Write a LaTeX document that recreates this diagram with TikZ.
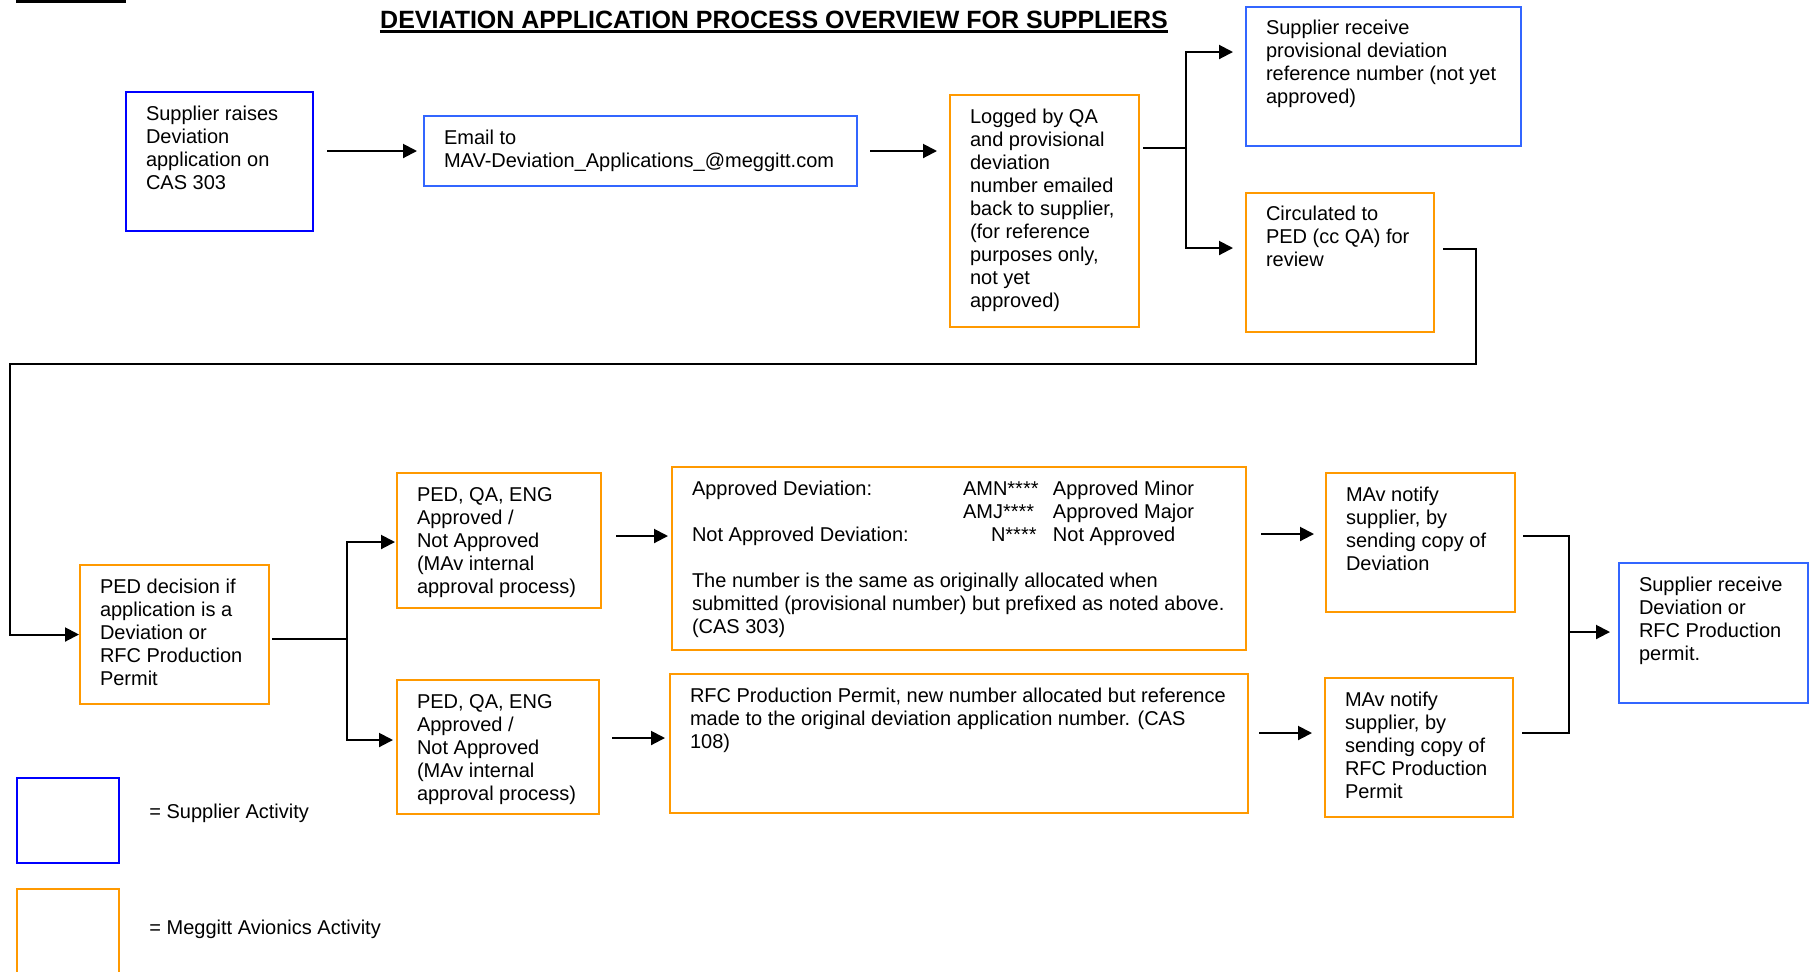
\documentclass[tikz,border=0pt]{standalone}
\usepackage{fontspec}
\setmainfont{Liberation Sans}
\usetikzlibrary{arrows.meta}
\definecolor{mblue}{HTML}{0000FF}
\definecolor{lblue}{HTML}{3366FF}
\definecolor{morange}{HTML}{FF9900}
\newcommand\bxt[3]{\parbox[c][#2][t]{#1}{\raggedright\strut #3}}
\tikzset{
  bx/.style={draw, line width=1pt, anchor=north west, inner xsep=10pt, inner ysep=6pt,
    font=\fontsize{10}{11.5}\selectfont},
  supbox/.style={bx, draw=mblue},
  supboxl/.style={bx, draw=lblue},
  mavbox/.style={bx, draw=morange},
  conn/.style={line width=1pt, draw=black},
  arr/.style={conn, -{Triangle[length=7pt,width=7pt]}},
  legbox/.style={line width=1pt, anchor=north west, minimum width=51pt, inner sep=0},
  legtext/.style={anchor=base west, inner sep=0, font=\fontsize{10}{11.5}\selectfont},
}
\begin{document}
\begin{tikzpicture}[x=0.5pt, y=-0.5pt]
\useasboundingbox (0,0) rectangle (1814,971);
\clip (0,0) rectangle (1814,971);

% top-left bar
\fill (16,0) rectangle (126,3.3);

% title
\node[anchor=base, inner sep=0, font=\fontsize{12.5}{15}\selectfont\bfseries] (title) at (774,28)
  {DEVIATION APPLICATION PROCESS OVERVIEW FOR SUPPLIERS};
\draw[line width=1.5pt] ([yshift=-1.8pt]title.base west) -- ([yshift=-1.8pt]title.base east);

% boxes
\node[supbox] (A) at (125,91) {\bxt{73.5pt}{57.5pt}{Supplier raises\\Deviation\\application on\\CAS 303}};
\node[supboxl] (B) at (423,115) {\bxt{196.5pt}{23pt}{Email to\\MAV-Deviation\_Applications\_@meggitt.com}};
\node[mavbox] (C) at (949,94) {\bxt{74.5pt}{104pt}{Logged by QA\\and provisional\\deviation\\number emailed\\back to supplier,\\(for reference\\purposes only,\\not yet\\approved)}};
\node[supboxl, inner ysep=5.5pt] (D) at (1245,6) {\bxt{117.5pt}{58.5pt}{Supplier receive\\provisional deviation\\reference number (not yet\\approved)}};
\node[mavbox, inner ysep=5.5pt] (E) at (1245,192) {\bxt{74pt}{58.5pt}{Circulated to\\PED (cc QA) for\\review}};
\node[mavbox] (F) at (79,564) {\bxt{74.5pt}{57.5pt}{PED decision if\\application is a\\Deviation or\\RFC Production\\Permit}};
\node[mavbox] (G1) at (396,472) {\bxt{82pt}{55.5pt}{PED, QA, ENG\\Approved /\\Not Approved\\(MAv internal\\approval process)}};
\node[mavbox] (G2) at (396,679) {\bxt{81pt}{55pt}{PED, QA, ENG\\Approved /\\Not Approved\\(MAv internal\\approval process)}};
\node[mavbox] (H1) at (671,466) {\bxt{267pt}{79.5pt}{%
\makebox[135.5pt][l]{Approved Deviation:}\makebox[45pt][l]{AMN****}Approved Minor\\
\hspace*{135.5pt}\makebox[45pt][l]{AMJ****}Approved Major\\
\makebox[135.5pt][l]{Not Approved Deviation:}\makebox[45pt][l]{\hspace*{14pt}N****}Not Approved\\[11.5pt]
The number is the same as originally allocated when\\
submitted (provisional number) but prefixed as noted above.\\
(CAS 303)}};
\node[mavbox] (H2) at (669,673) {\bxt{269pt}{57.5pt}{RFC Production Permit, new number allocated but reference\\made to the original deviation application number. (CAS\\108)}};
\node[mavbox] (I1) at (1325,472) {\bxt{74.5pt}{57.5pt}{MAv notify\\supplier, by\\sending copy of\\Deviation}};
\node[mavbox] (I2) at (1324,677) {\bxt{74pt}{57.5pt}{MAv notify\\supplier, by\\sending copy of\\RFC Production\\Permit}};
\node[supboxl] (J) at (1618,562) {\bxt{74.5pt}{58pt}{Supplier receive\\Deviation or\\RFC Production\\permit.}};

% legend
\node[legbox, draw=mblue, minimum height=42.5pt] (L1) at (16,777) {};
\node[legbox, draw=morange, minimum height=60pt] (L2) at (16,888) {};
\node[legtext] (L1t) at (149,818) {= Supplier Activity};
\node[legtext] (L2t) at (149,934) {= Meggitt Avionics Activity};

% bend / level coordinates
\coordinate (c1) at (1186,148);
\coordinate (c2) at (1186,52);
\coordinate (c3) at (1186,248);
\coordinate (e1) at (1476,249);
\coordinate (e2) at (1476,364);
\coordinate (e3) at (10,364);
\coordinate (f1) at (347,639);
\coordinate (f2) at (347,542);
\coordinate (f3) at (347,740);
\coordinate (yG1) at (0,536);
\coordinate (yG2) at (0,738);
\coordinate (yH1) at (0,534);
\coordinate (yH2) at (0,733);
\coordinate (k1) at (1569,536);
\coordinate (k2) at (1569,733);
\coordinate (k3) at (1569,632);

% connectors
\draw[arr, shorten <=6.5pt, shorten >=3pt] (A.east |- B.west) -- (B.west);
\draw[arr, shorten <=6pt, shorten >=6pt] (B.east) -- (B.east -| C.west);
\draw[conn, shorten <=1.5pt] (C.east |- c1) -- (c1);
\draw[arr, shorten >=6pt] (c1) -- (c2) -- (c2 -| D.west);
\draw[arr, shorten >=6pt] (c1) -- (c3) -- (c3 -| E.west);
\draw[arr, shorten <=4pt] (E.east |- e1) -- (e1) -- (e2) -- (e3) |- (F.west);
\draw[conn, shorten <=1pt] (F.east |- f1) -- (f1);
\draw[arr, shorten >=0.5pt] (f1) -- (f2) -- (f2 -| G1.west);
\draw[arr, shorten >=1.5pt] (f1) -- (f3) -- (f3 -| G2.west);
\draw[arr, shorten <=7pt, shorten >=1.5pt] (G1.east |- yG1) -- (H1.west |- yG1);
\draw[arr, shorten <=6pt, shorten >=2pt] (G2.east |- yG2) -- (H2.west |- yG2);
\draw[arr, shorten <=7pt, shorten >=5.5pt] (H1.east |- yH1) -- (I1.west |- yH1);
\draw[arr, shorten <=5pt, shorten >=6pt] (H2.east |- yH2) -- (I2.west |- yH2);
\draw[conn, shorten <=3.5pt, shorten >=4pt] (I1.east |- k1) -- (k1) -- (k2) -- (I2.east |- k2);
\draw[arr, shorten >=4pt] (k3) -- (k3 -| J.west);
\end{tikzpicture}
\end{document}
